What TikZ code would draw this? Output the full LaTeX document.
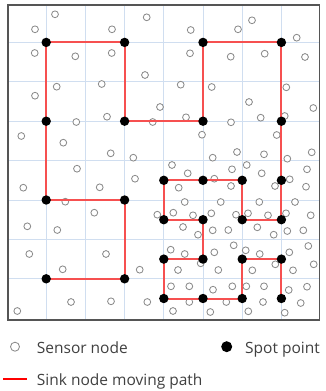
\documentclass[tikz,border=0pt]{standalone}
\usepackage{fontspec}
\setmainfont{Open Sans}
\definecolor{gridblue}{RGB}{208,222,240}
\definecolor{pathred}{RGB}{246,80,80}
\definecolor{sensorgrey}{RGB}{140,140,140}
\definecolor{framegrey}{RGB}{85,85,85}
\definecolor{textgrey}{RGB}{64,64,64}
\tikzset{
  sensor/.style={circle,draw=sensorgrey,fill=white,line width=0.85pt,inner sep=0pt,minimum size=6.8pt},
  spot/.style={circle,fill=black,inner sep=0pt,minimum size=9.4pt},
  movepath/.style={draw=pathred,line width=2pt,line join=miter},
  gridline/.style={draw=gridblue,line width=0.9pt},
  legendtext/.style={text=textgrey,font=\fontsize{15.5}{18}\selectfont,inner sep=0pt,anchor=base west}
}
\begin{document}
\begin{tikzpicture}[x=1pt,y=-1pt]
\useasboundingbox (0,0) rectangle (325,391);
\fill[white] (0,0) rectangle (325,391);
% grid
\foreach \i in {1,...,7}{
  \draw[gridline] ({7+39.2*\i},5) -- ({7+39.2*\i},320);
  \draw[gridline] (8,{3+39.4*\i}) -- (319.5,{3+39.4*\i});
}
% spot point positions
\foreach \n/\i/\j in {1/1/7,2/3/7,3/3/5,4/1/5,5/1/3,6/1/1,7/3/1,8/3/3,9/5/3,10/5/1,11/7/1,12/7/3,
  13/7/4.5,14/7/5.5,15/6/5.5,16/6/4.5,17/5/4.5,18/4/4.5,19/4/5.5,20/5/5.5,21/5/6.5,22/4/6.5,23/4/7.5,24/5/7.5,25/6/7.5,26/6/6.5,27/7/6.5,28/7/7.5}
  \coordinate (sp\n) at ({7+39.2*\i},{3+39.4*\j});
% sensor nodes
\foreach [count=\k] \x/\y in {
55/14.3,146.7/17.3,35/29.3,112/29.3,34.7/53,75.3/56.3,111.7/53,145/75,56.7/86.7,101.7/84,35/95.7,160/107,107/116.7,76.3/122,152.7/122,21.3/136,63.3/142.7,110.7/153.3,133.3/157.7,
190.7/30,238/29.3,252/20.3,296.7/37.7,190/53.3,230.7/56.7,264.7/53.7,305/57,180.7/84.7,211.7/87,286.3/87.3,249/102,313.3/108,186/117.3,231/122.3,260.7/117.7,284.7/116,202/134.7,276.7/135,212.7/157.7,237/152,264/154.3,287.3/158.7,311.7/152.3,
77/168.7,135/178.7,23.3/187.7,99.7/187.3,65.3/201.7,94.3/212.7,157.3/214.7,27.3/226.3,57.3/230,29.3/254,106/254,62.7/269.3,139.7/269.7,71/302,111/301.3,147.3/302,17.3/311,
172/165,232/169.3,246.7/165,307/169.3,187.7/173.3,261.7/173.3,178.7/187.7,214.3/178.7,231/186,275/186,289.7/179.3,306/186.7,
184.7/202,220.7/202,259.3/202,295/202,173.3/212.7,193/215.3,211.3/213.3,236/214.7,248/213.3,268/215.3,286/213.3,310.7/215.3,
183/227,198/234.7,212.7/230.3,228.3/230,257.3/227.3,273.7/234.7,287.3/231,303.3/230.3,308.3/246,
170.7/249.7,184.7/254,214.3/252.3,233.7/245.3,245.7/250.3,259.7/254,289.3/252.3,313.7/264.3,
178/270,200.7/263.3,218.3/270,252.3/270.3,293/270.3,275.3/264.3,
171/286.3,189.3/286.3,213/289.7,232.3/286.3,246.3/286.3,264/286.3,288.7/290,307/286.7,
173/311,189.3/302,210.3/312,226.3/302,248.3/311.3,263/302,284.7/312.7,300.7/303}
  \node[sensor] (s\k) at (\x,\y) {};
% moving path
\draw[movepath] (sp1) -- (sp2) -- (sp3) -- (sp4) -- (sp5) -- (sp6) -- (sp7) -- (sp8) -- (sp9) -- (sp10) -- (sp11) -- (sp12) -- (sp13) -- (sp14) -- (sp15) -- (sp16) -- (sp17) -- (sp18) -- (sp19) -- (sp20) -- (sp21) -- (sp22) -- (sp23) -- (sp24) -- (sp25) -- (sp26) -- (sp27) -- (sp28);
% frame
\draw[framegrey,line width=1.4pt] (8,5) rectangle (319.5,320);
\foreach \n in {1,...,28}
  \node[spot] (pt\n) at (sp\n) {};
% legend
\node[sensor,minimum size=9pt] (lsensor) at (15,346.7) {};
\node[legendtext] (tsensor) at (36.7,353) {Sensor node};
\node[spot,minimum size=11pt] (lspot) at (226.7,346.7) {};
\node[legendtext] (tspot) at (245,353) {Spot point};
\coordinate (lred1) at (3.3,379);
\coordinate (lred2) at (26.7,379);
\draw[draw=red,line width=2.4pt] (lred1) -- (lred2);
\node[legendtext] (tpath) at (36.7,385) {Sink node moving path};
\end{tikzpicture}
\end{document}
